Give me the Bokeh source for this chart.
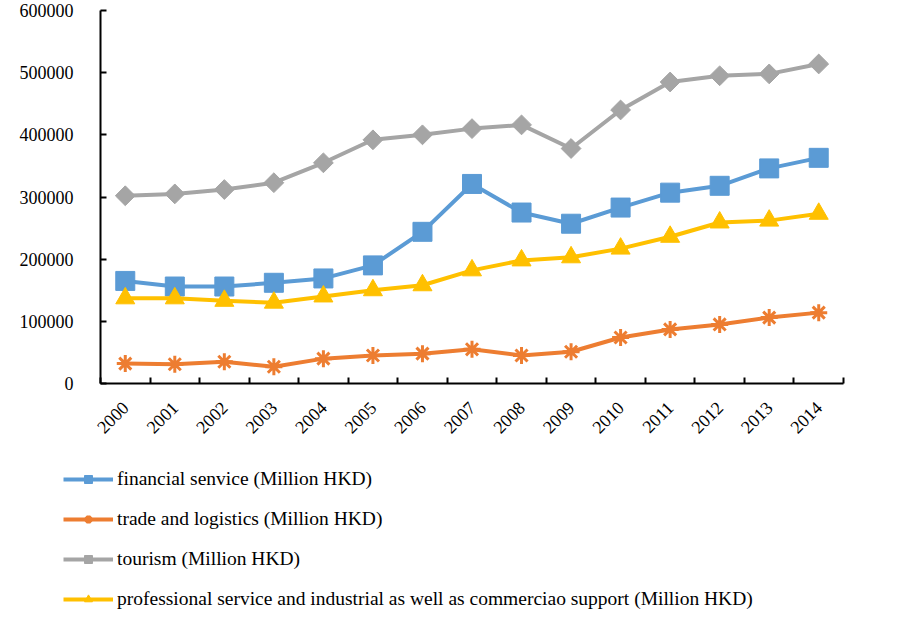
import numpy as np
from bokeh.plotting import figure
from bokeh.models import Range1d, FixedTicker, Legend, LegendItem, BasicTickFormatter
from bokeh.embed import file_html
from bokeh.resources import INLINE

years = list(range(2000, 2015))
financial = [165000, 156000, 156000, 162000, 169000, 190000, 244000, 321000, 275000, 257000, 283000, 307000, 318000, 346000, 363000]
trade = [32000, 31000, 35000, 27000, 40000, 45000, 48000, 55000, 45000, 51000, 74000, 87000, 95000, 106000, 114000]
tourism = [302000, 305000, 312000, 323000, 355000, 392000, 400000, 410000, 416000, 378000, 440000, 485000, 495000, 498000, 514000]
professional = [137000, 137000, 133000, 130000, 140000, 150000, 158000, 182000, 198000, 203000, 217000, 236000, 259000, 262000, 273000]

labels = [
    "financial senvice (Million HKD)",
    "trade and logistics (Million HKD)",
    "tourism (Million HKD)",
    "professional service and industrial as well as commerciao support (Million HKD)",
]
colors = ["#5B9BD5", "#ED7D31", "#A5A5A5", "#FFC000"]
markers = ["square", "asterisk", "square", "triangle"]
angles = [0, 0, np.pi / 4, 0]
sizes = [19, 17, 14, 19]
y_ticks = [0, 100000, 200000, 300000, 400000, 500000, 600000]

FONT = "Liberation Serif"
FS = "18px"
LFS = "19.5px"

p = figure(width=900, height=455, output_backend="svg", toolbar_location=None,
           x_range=Range1d(years[0] - 0.5, years[-1] + 0.5), y_range=Range1d(0, 600000),
           min_border_left=100, min_border_right=57, min_border_top=10, min_border_bottom=72)
p.outline_line_color = None
p.xgrid.visible = False
p.ygrid.visible = False

series = [financial, trade, tourism, professional]


def draw(fig, xs, vals, col, mk, sz, ang):
    r1 = fig.line(xs, vals, line_color=col, line_width=4)
    if mk == "asterisk":
        r2 = fig.scatter(xs, vals, marker=mk, size=sz, line_color=col, line_width=3)
    else:
        r2 = fig.scatter(xs, vals, marker=mk, size=sz, angle=ang, fill_color=col, line_color=col)
    return r1, r2


for vals, col, mk, sz, ang in zip(series, colors, markers, sizes, angles):
    draw(p, years, vals, col, mk, sz, ang)

# x axis
xa = p.xaxis[0]
xa.ticker = FixedTicker(ticks=years, minor_ticks=[y - 0.5 for y in years] + [years[-1] + 0.5])
xa.major_tick_in = 0
xa.major_tick_out = 0
xa.minor_tick_in = 6
xa.minor_tick_out = 0
xa.minor_tick_line_color = "black"
xa.minor_tick_line_width = 2
xa.axis_line_width = 2
xa.major_label_orientation = np.pi / 4
xa.major_label_standoff = 21
xa.major_label_text_font = FONT
xa.major_label_text_font_size = FS
xa.major_label_text_color = "black"
xa.formatter = BasicTickFormatter(use_scientific=False)

ya = p.yaxis[0]
ya.ticker = FixedTicker(ticks=y_ticks)
ya.major_tick_in = 6
ya.major_tick_out = 0
ya.major_tick_line_width = 2
ya.minor_tick_line_color = None
ya.axis_line_width = 2
ya.major_label_standoff = 27
ya.major_label_text_font = FONT
ya.major_label_text_font_size = FS
ya.major_label_text_color = "black"
ya.formatter = BasicTickFormatter(use_scientific=False)

# legend panel (separate figure below the chart); its renderers hold the
# same series but lie outside this panel's visible ranges
lg = figure(width=900, height=171, output_backend="svg", toolbar_location=None,
            x_range=Range1d(0, 1), y_range=Range1d(-2, -1),
            x_axis_location=None, y_axis_location=None,
            min_border=0, min_border_left=0, min_border_right=0, min_border_top=0, min_border_bottom=0)
lg.outline_line_color = None
lg.xgrid.visible = False
lg.ygrid.visible = False

items = []
for vals, lab, col, mk, sz, ang in zip(series, labels, colors, markers, sizes, angles):
    r1, r2 = draw(lg, years, vals, col, mk, sz, ang)
    items.append(LegendItem(label=lab, renderers=[r1, r2]))

legend = Legend(items=items, location=(63, 16), orientation="vertical",
                border_line_color=None, background_fill_alpha=0, padding=0, margin=0,
                spacing=18, glyph_height=20, glyph_width=50, label_standoff=4, label_height=20,
                label_text_font=FONT, label_text_font_size=LFS, label_text_color="black")
lg.add_layout(legend)

open("out.html", "w").write(file_html([p, lg], INLINE))
